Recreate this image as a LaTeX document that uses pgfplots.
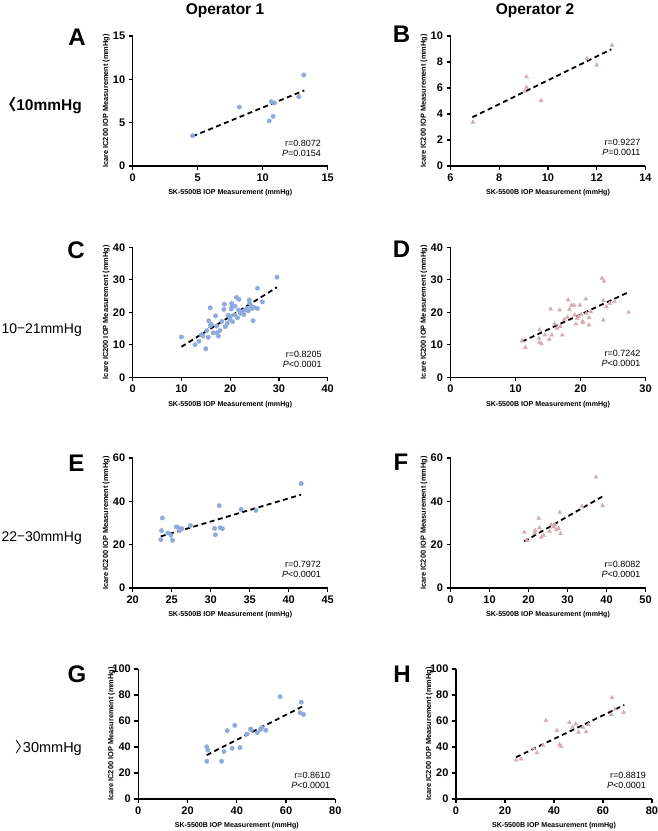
\documentclass[border=0pt]{standalone}
\usepackage{fontspec}
\setmainfont{Liberation Sans}
\newfontfamily\cjk{Noto Sans CJK JP}
\usepackage{pgfplots}
\pgfplotsset{compat=1.18}

\definecolor{ptblue}{RGB}{143,170,220}
\definecolor{ptpink}{RGB}{212,172,178}

\pgfplotsset{
  panel/.style={
    scale only axis, width=195pt, height=130pt,
    anchor=south west, clip=false,
    axis lines=left,
    axis line style={-, line width=1.4pt, black},
    every outer x axis line/.append style={-},
    every outer y axis line/.append style={-},
    tick align=outside, major tick length=4pt,
    tick style={line width=1.3pt, black},
    minor tick num=0,
    /pgf/number format/assume math mode=true,
    tick label style={font=\fontsize{11}{12}\selectfont},
    xticklabel={\textbf{\pgfmathprintnumber[assume math mode=true]{\tick}}},
    yticklabel={\textbf{\pgfmathprintnumber[assume math mode=true]{\tick}}},
    xlabel={SK-5500B IOP Measurement (mmHg)},
    ylabel={Icare IC200 IOP Measurement (mmHg)},
    every axis x label/.style={at={(axis description cs:0.5,-0.208)}, anchor=center,
      font=\bfseries\fontsize{7.1}{8}\selectfont},
    every axis y label/.style={at={(axis description cs:-0.136,0.5)}, anchor=center, rotate=90,
      font=\bfseries\fontsize{7.4}{8}\selectfont},
  },
  pt1/.style={only marks, mark=*, mark size=2.2pt, draw=ptblue, fill=ptblue},
  pt2/.style={only marks, mark=triangle*, mark size=2.3pt, draw=ptpink, fill=ptpink},
  fitline/.style={black, line width=1.8pt, dash pattern=on 5pt off 3.5pt},
}
\newcommand{\stat}[3]{\node[anchor=south east, align=right, inner sep=0pt,
  font=\fontsize{9}{10}\selectfont] at (rel axis cs:#1) {r=#2\\\textit{P}#3};}

\begin{document}
\begin{tikzpicture}

% column titles
\node[anchor=base, font=\bfseries\fontsize{15.5}{18}\selectfont] at (225pt,-14pt) {Operator 1};
\node[anchor=base, font=\bfseries\fontsize{15.5}{18}\selectfont] at (535pt,-14pt) {Operator 2};

% row labels
\node[anchor=base east, inner sep=0pt, font=\bfseries\fontsize{15.5}{18}\selectfont] at (82pt,-110pt) {{\cjk 〈}10mmHg};
\node[anchor=base east, inner sep=0pt, font=\fontsize{14}{16}\selectfont] at (82pt,-333pt) {10{\cjk −}21mmHg};
\node[anchor=base east, inner sep=0pt, font=\fontsize{14}{16}\selectfont] at (82pt,-541pt) {22{\cjk −}30mmHg};
\node[anchor=base east, inner sep=0pt, font=\fontsize{14.5}{16}\selectfont] at (82pt,-752pt) {{\cjk 〉}\kern-0.45em30mmHg};

% panel letters
\foreach \l/\x/\y in {A/77/45, B/401.5/42, C/76/258, D/401.5/257, E/76.5/471, F/401/470, G/77/682, H/402/682}
  \node[anchor=base, inner sep=0pt, font=\bfseries\fontsize{24}{26}\selectfont] at (\x pt,-\y pt) {\l};

% A: <10 mmHg, operator 1
\begin{axis}[panel, at={(132.7pt,-166pt)}, xmin=0, xmax=15, ymin=0, ymax=15,
  xtick={0,5,10,15}, ytick={0,5,10,15}]
\addplot[pt1] coordinates {(4.6,3.5) (8.2,6.8) (10.66,7.42) (10.9,7.27) (10.5,5.2) (10.8,5.73) (12.78,8.0) (13.16,10.5)};
\addplot[fitline] coordinates {(4.6,3.42) (13.2,8.72)};
\stat{0.966,0.07}{0.8072}{=0.0154}
\end{axis}

% B: <10 mmHg, operator 2
\begin{axis}[panel, at={(450.5pt,-166pt)}, xmin=6, xmax=14, ymin=0, ymax=10,
  xtick={6,8,10,12,14}, ytick={0,2,4,6,8,10}]
\addplot[pt2] coordinates {(6.92,3.37) (9.12,6.86) (9.12,6.05) (9.05,5.74) (9.72,5.03) (11.6,8.27) (12.0,7.76) (12.63,9.29)};
\addplot[fitline] coordinates {(6.9,3.75) (12.6,8.98)};
\stat{0.975,0.08}{0.9227}{=0.0011}
\end{axis}

% C: 10-21 mmHg, operator 1
\begin{axis}[panel, at={(132.7pt,-377.3pt)}, xmin=0, xmax=40, ymin=0, ymax=40,
  xtick={0,10,20,30,40}, ytick={0,10,20,30,40}]
\addplot[pt1] coordinates {(10.0,12.4) (12.8,10.0) (13.6,11.1) (14.4,12.7) (15.0,8.8) (15.6,17.4)
  (15.9,21.4) (15.5,12.3) (15.9,15.8) (15.2,14.4) (16.5,13.7) (17.0,18.9) (17.2,15.8) (17.3,13.7)
  (17.6,12.7) (17.9,14.4) (18.7,20.9) (18.8,22.5) (19.0,15.6) (19.4,16.6) (19.6,19.1) (19.9,17.8)
  (20.2,21.0) (20.3,22.7) (20.4,21.8) (20.5,17.1) (20.9,19.2) (21.0,21.9) (21.3,24.6) (21.5,18.3)
  (21.7,20.7) (21.8,24.0) (22.1,19.7) (22.8,19.3) (23.1,20.7) (23.4,21.2) (23.7,20.5) (23.9,23.8)
  (24.0,22.8) (24.3,21.9) (24.7,17.4) (24.9,21.5) (25.6,27.4) (25.6,21.2) (26.6,23.2) (29.6,30.8)
  (16.1,16.3) (18.3,17.2) (20.0,18.6) (22.4,20.2) (24.5,21.2) (14.1,13.1)};
\addplot[fitline] coordinates {(10.0,9.4) (29.6,27.7)};
\stat{0.97,0.07}{0.8205}{<0.0001}
\end{axis}

% D: 10-21 mmHg, operator 2
\begin{axis}[panel, at={(450.5pt,-377.3pt)}, xmin=0, xmax=30, ymin=0, ymax=40,
  xtick={0,10,20,30}, ytick={0,10,20,30,40}]
\addplot[pt2] coordinates {(11.0,11.2) (11.5,9.2) (13.7,14.6) (13.6,12.0) (13.7,10.7) (14.0,10.3)
  (14.5,13.0) (15.2,11.7) (15.4,21.0) (15.6,13.0) (16.0,16.4) (16.4,15.1) (16.8,20.7) (16.9,15.6)
  (17.2,13.0) (18.1,23.8) (18.3,20.9) (18.6,22.2) (19.0,22.2) (19.1,19.2) (19.3,16.4) (19.5,18.2)
  (19.7,18.7) (19.9,22.2) (20.1,19.3) (20.3,17.3) (20.4,16.8) (20.8,24.1) (20.9,19.7) (21.3,18.4)
  (21.3,16.1) (21.6,20.2) (23.3,30.5) (23.6,29.6) (23.5,23.6) (23.5,17.6) (24.0,21.7) (24.5,22.8)
  (25.2,23.3) (27.4,20.0) (18.0,18.5) (17.5,17.8)};
\addplot[fitline] coordinates {(11.0,11.0) (27.3,26.1)};
\stat{0.975,0.08}{0.7242}{<0.0001}
\end{axis}

% E: 22-30 mmHg, operator 1
\begin{axis}[panel, at={(132.7pt,-588pt)}, xmin=20, xmax=45, ymin=0, ymax=60,
  xtick={20,25,30,35,40,45}, ytick={0,20,40,60}]
\addplot[pt1] coordinates {(23.6,22.3) (23.8,32.3) (23.7,26.5) (24.5,25.4) (24.9,24.3) (25.1,22.0)
  (25.6,28.2) (26.0,26.6) (26.3,27.4) (27.4,28.8) (30.5,27.5) (30.6,24.6) (31.1,38.0) (31.2,27.8)
  (31.5,27.4) (33.9,36.3) (35.8,35.8) (41.6,48.2) (25.8,28.0)};
\addplot[fitline] coordinates {(23.6,23.8) (41.6,43.1)};
\stat{0.966,0.077}{0.7972}{<0.0001}
\end{axis}

% F: 22-30 mmHg, operator 2
\begin{axis}[panel, at={(450.5pt,-588pt)}, xmin=0, xmax=50, ymin=0, ymax=60,
  xtick={0,10,20,30,40,50}, ytick={0,20,40,60}]
\addplot[pt2] coordinates {(18.9,25.7) (19.6,21.8) (21.7,26.6) (21.6,25.4) (22.6,32.2) (22.8,27.8)
  (23.3,23.4) (23.9,24.3) (25.4,26.2) (25.8,29.2) (26.4,28.2) (26.8,29.1) (27.1,26.9) (27.7,27.5)
  (28.0,34.9) (28.2,25.1) (33.7,37.7) (37.3,51.2) (39.0,38.0)};
\addplot[fitline] coordinates {(18.9,21.5) (39.2,42.5)};
\stat{0.975,0.077}{0.8082}{<0.0001}
\end{axis}

% G: >30 mmHg, operator 1
\begin{axis}[panel, width=197pt, at={(138.3pt,-799pt)}, xmin=0, xmax=80, ymin=0, ymax=100,
  xtick={0,20,40,60,80}, ytick={0,20,40,60,80,100}]
\addplot[pt1] coordinates {(27.8,29.0) (27.8,40.2) (28.2,37.8) (33.8,29.0) (34.8,36.5) (36.1,52.6)
  (38.1,39.1) (39.2,56.7) (41.3,39.6) (44.1,49.9) (45.6,53.9) (45.9,53.1) (48.3,51.0) (49.6,53.5)
  (50.1,54.8) (51.8,52.9) (57.6,78.8) (66.2,74.5) (65.7,66.4) (67.1,65.1)};
\addplot[fitline] coordinates {(27.8,33.8) (67.0,71.5)};
\stat{0.975,0.077}{0.8610}{<0.0001}
\end{axis}

% H: >30 mmHg, operator 2
\begin{axis}[panel, width=196pt, at={(456pt,-799pt)}, xmin=0, xmax=80, ymin=0, ymax=100,
  xtick={0,20,40,60,80}, ytick={0,20,40,60,80,100}]
\addplot[pt2] coordinates {(24.5,30.0) (26.6,30.8) (31.8,38.8) (33.0,35.6) (35.5,41.4) (36.7,60.4)
  (41.2,52.7) (42.2,41.8) (42.9,40.4) (46.3,58.9) (47.6,55.2) (48.9,57.6) (50.0,51.4) (51.8,55.1)
  (53.1,51.7) (54.1,57.1) (63.4,65.0) (63.7,77.9) (64.9,69.0) (68.4,66.6)};
\addplot[fitline] coordinates {(24.5,32.1) (68.7,72.3)};
\stat{0.97,0.08}{0.8819}{<0.0001}
\end{axis}

\pgfresetboundingbox
\path[use as bounding box] (0pt,0pt) rectangle (658pt,-831pt);
\end{tikzpicture}
\end{document}
